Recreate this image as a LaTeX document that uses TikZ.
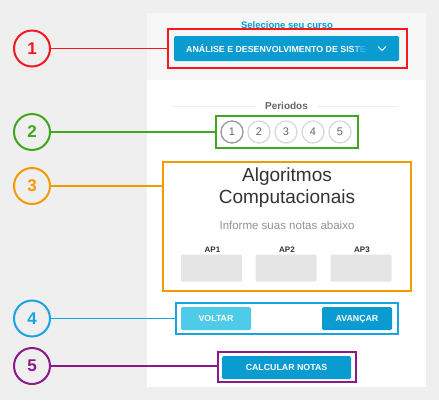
\documentclass[tikz,border=0pt]{standalone}
\usepackage{fontspec}
\setmainfont{Liberation Sans}
\usetikzlibrary{positioning,calc}
\definecolor{bggray}{HTML}{EFEFEF}
\definecolor{topgray}{HTML}{F6F6F6}
\definecolor{btnblue}{HTML}{0A9BD0}
\definecolor{btnlight}{HTML}{4DCBE8}
\definecolor{mred}{HTML}{F5191E}
\definecolor{mgreen}{HTML}{40A820}
\definecolor{morange}{HTML}{F39A00}
\definecolor{mblue}{HTML}{18A4E0}
\definecolor{mpurple}{HTML}{8A1A8A}
\definecolor{fieldgray}{HTML}{E5E5E5}
\definecolor{darktext}{HTML}{333333}
\definecolor{midtext}{HTML}{666666}
\tikzset{
    marker/.style={draw=#1, circle, line width=2pt, minimum size=36pt, inner sep=0pt, text=#1, font=\bfseries\fontsize{17}{17}\selectfont},
    frame/.style={draw=#1, line width=1.5pt, inner sep=0pt},
    link/.style={draw=#1, line width=1.5pt},
    button/.style={fill=#1, rounded corners=1.5pt, text=white, inner sep=0pt, text height=6.4pt, text depth=0pt, font=\bfseries\fontsize{8.8}{8.8}\selectfont},
    period/.style={draw=#1, circle, line width=1.3pt, minimum size=22pt, inner sep=0pt, text=midtext, font=\fontsize{11}{11}\selectfont},
    field/.style={fill=fieldgray, rounded corners=1pt, minimum width=61pt, minimum height=27pt, inner sep=0pt}
}

\begin{document}
\begin{tikzpicture}[x=1pt, y=-1pt]
    \useasboundingbox[fill=bggray] (0,0) rectangle (439,400);
    % panel
    \fill[white] (147,13) rectangle (426,387);
    \fill[topgray] (147,13) rectangle (426,80);

    % course selection
    \node[text=btnblue, font=\bfseries\fontsize{9.5}{9.5}\selectfont] (sel) at (287,25) {Selecione seu curso};
    \node[button=btnblue, minimum width=225pt, minimum height=25pt] (course) at (286.5,48.5) {};
    \node[anchor=west, text=white, inner sep=0pt, font=\bfseries\fontsize{8.8}{8.8}\selectfont] (coursetxt) at (186,48.5)
        {ANÁLISE E DESENVOLVIMENTO DE SIS\textcolor{white!60!btnblue}{T}\textcolor{white!25!btnblue}{E}};
    \draw[white, line width=1pt] (378,46.5) -- (382,50.5) -- (386,46.5);

    % periods
    \node[text=midtext, font=\bfseries\fontsize{10}{10}\selectfont] (per) at (286.5,105.5) {Periodos};
    \draw[gray!15, line width=1pt] (173,106) -- (255,106) (318,106) -- (398,106);
    \foreach \i in {1,...,5} {
        \ifnum\i=1 \def\pc{gray!80}\else \def\pc{gray!30}\fi
        \node[period=\pc] (p\i) at ({232+(\i-1)*27},132) {\i};
    }

    % subject
    \node[text=darktext, font=\fontsize{19}{19}\selectfont] (subj1) at (287,177) {Algoritmos};
    \node[text=darktext, font=\fontsize{19}{19}\selectfont] (subj2) at (287,199) {Computacionais};
    \node[text=gray!85, font=\fontsize{11.5}{11.5}\selectfont] (info) at (287,225) {Informe suas notas abaixo};
    \foreach \j/\x in {1/211.5,2/286,3/361} {
        \node[text=darktext, font=\bfseries\fontsize{8}{8}\selectfont] (ap\j) at (\x+1,250) {AP\j};
        \node[field] (f\j) at (\x,268) {};
    }

    % navigation
    \node[button=btnlight, minimum width=70pt, minimum height=23pt] (back) at (216,318.5) {VOLTAR};
    \node[button=btnblue, minimum width=70pt, minimum height=23pt] (next) at (357,318.5) {AVANÇAR};
    \node[button=btnblue, minimum width=129pt, minimum height=23pt] (calc) at (286.5,367.5) {CALCULAR NOTAS};

    % frames
    \node[frame=mred, minimum width=239pt, minimum height=39pt] (box1) at (287.5,48.5) {};
    \node[frame=mgreen, minimum width=142pt, minimum height=32pt] (box2) at (287,132) {};
    \node[frame=morange, minimum width=248pt, minimum height=129pt] (box3) at (287,226.5) {};
    \node[frame=mblue, minimum width=222pt, minimum height=31pt] (box4) at (287,318.5) {};
    \node[frame=mpurple, minimum width=138pt, minimum height=30pt] (box5) at (287,367) {};

    % markers
    \node[marker=mred] (m1) at (32,48.5) {1};
    \node[marker=mgreen] (m2) at (32,132) {2};
    \node[marker=morange] (m3) at (32,186) {3};
    \node[marker=mblue] (m4) at (32,318.5) {4};
    \node[marker=mpurple] (m5) at (32,366) {5};
    \draw[link=mred] (m1) -- (m1 -| box1.west);
    \draw[link=mgreen] (m2) -- (m2 -| box2.west);
    \draw[link=morange] (m3) -- (m3 -| box3.west);
    \draw[link=mblue] (m4) -- (m4 -| box4.west);
    \draw[link=mpurple] (m5) -- (m5 -| box5.west);
\end{tikzpicture}
\end{document}
